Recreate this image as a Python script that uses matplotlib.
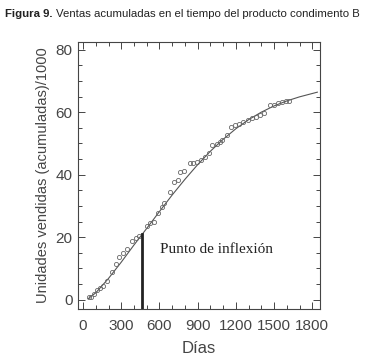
import numpy as np
import matplotlib
matplotlib.use("Agg")
import matplotlib.pyplot as plt
from matplotlib.ticker import MultipleLocator

# observed points (days, cumulative units / 1000)
dias = [47, 66, 87, 113, 131, 158, 192, 224, 255, 282, 316, 342, 381, 413, 439,
        500, 526, 560, 586, 618, 639, 681, 713, 744, 765, 792, 839, 866, 897, 923,
        955, 989, 1015, 1050, 1076, 1095, 1134, 1162, 1195, 1226, 1260, 1292, 1324,
        1358, 1392, 1423, 1470, 1497, 1528, 1560, 1594, 1620]
ventas = [0.9, 1.0, 1.9, 3.0, 3.6, 4.4, 6.1, 8.7, 11.4, 13.5, 15.0, 16.1, 18.8, 19.7, 20.3,
          23.5, 24.5, 24.9, 27.7, 29.6, 30.9, 34.4, 37.6, 38.4, 40.7, 41.3, 43.7, 43.7, 44.2, 44.7,
          45.5, 46.8, 49.4, 49.7, 50.6, 51.0, 52.6, 55.3, 55.9, 56.3, 56.9, 57.4, 58.0,
          58.4, 59.0, 59.8, 62.2, 62.4, 62.8, 63.2, 63.7, 63.5]

# fitted curve
curva_x = [40, 100, 200, 300, 400, 466, 500, 600, 700, 800, 900, 1000, 1100,
           1200, 1300, 1400, 1500, 1600, 1700, 1840]
curva_y = [0.3, 2.2, 6.8, 12.0, 17.5, 21.0, 22.8, 28.2, 33.5, 38.5, 43.2, 47.5, 51.3,
           54.7, 57.6, 60.0, 62.0, 63.6, 64.9, 66.4]

inflexion_x = 466
inflexion_y = 21

titulo_a = "Figura 9."
titulo_b = "Ventas acumuladas en el tiempo del producto condimento B"

plt.rcParams["font.family"] = ["Liberation Sans", "DejaVu Sans"]

fig = plt.figure(figsize=(3.66, 3.64), dpi=100)
ax = fig.add_axes([0.213, 0.151, 0.661, 0.734])

gris = "#454545"
ax.plot(curva_x, curva_y, color="#555555", lw=0.8)
ax.plot(dias, ventas, "o", ms=3.0, mfc="none", mec="#666666", mew=0.6)
ax.plot([inflexion_x, inflexion_x], [-3, inflexion_y], color="#222222", lw=2)

ax.text(608, 16, "Punto de inflexión", fontsize=11, va="center",
        family=["Liberation Serif", "DejaVu Serif"], color="#222222")

ax.set_xlim(-40, 1860)
ax.set_ylim(-3, 82.5)
ax.set_xticks([0, 300, 600, 900, 1200, 1500, 1800])
ax.set_yticks([0, 20, 40, 60, 80])
ax.xaxis.set_minor_locator(MultipleLocator(100))
ax.yaxis.set_minor_locator(MultipleLocator(5))
ax.tick_params(which="both", direction="in", top=True, right=True,
               color=gris, width=0.7, labelcolor=gris, labelsize=11)
ax.tick_params(which="major", length=5)
ax.tick_params(which="minor", length=3)
ax.tick_params(axis="x", pad=7)
ax.tick_params(axis="y", pad=4)
for s in ax.spines.values():
    s.set_color(gris)
    s.set_linewidth(0.8)

ax.set_xlabel("Días", fontsize=12, color=gris, labelpad=6)
ax.set_ylabel("Unidades vendidas (acumuladas)/1000", fontsize=10.5, color=gris, labelpad=4)

# title: bold lead + regular text, shrunk to fit the 355 px the original spans
r = fig.canvas.get_renderer()
fs = 9.0
x0, ytit, ancho = 5, 0.953, 355
while True:
    ta = fig.text(x0 / 366, ytit, titulo_a, fontsize=fs, fontweight="bold",
                  color="#222222", va="baseline")
    wa = ta.get_window_extent(r).width
    tb = fig.text((x0 + wa + 3) / 366, ytit, titulo_b, fontsize=fs,
                  color="#222222", va="baseline")
    wb = tb.get_window_extent(r).width
    if wa + 3 + wb <= ancho or fs < 6:
        break
    ta.remove()
    tb.remove()
    fs -= 0.1

fig.savefig("out.png", dpi=100, facecolor="white")
